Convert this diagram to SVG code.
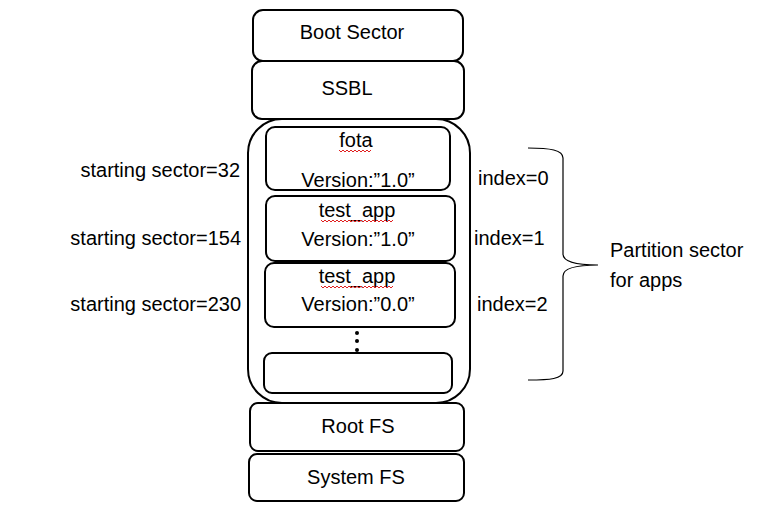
<svg xmlns="http://www.w3.org/2000/svg" width="775" height="507" viewBox="0 0 775 507">
<style>
.box{fill:#fff;stroke:#000;stroke-width:2}
.t{font-family:"Liberation Sans",Arial,sans-serif;font-size:20px;fill:#000}
.c{text-anchor:middle}
.e{text-anchor:end}
.sq{fill:none;stroke:#e02020;stroke-width:1}
</style>
<rect width="775" height="507" fill="#fff"/>
<g id="boot"><rect class="box" x="253" y="10" width="210" height="51" rx="10"/><text class="t c" x="352" y="39">Boot Sector</text></g>
<g id="ssbl"><rect class="box" x="252" y="61" width="212" height="58" rx="10"/><text class="t c" x="347" y="95">SSBL</text></g>
<g id="apps"><rect class="box" x="248" y="119" width="222" height="284" rx="34"/></g>
<g id="fota"><rect class="box" x="266" y="127" width="184" height="63" rx="9"/><text class="t c" x="356" y="147">fota</text><path class="sq" d="M339,150 l2,2 2,-2 2,2 2,-2 2,2 2,-2 2,2 2,-2 2,2 2,-2 2,2 2,-2 2,2 2,-2 2,2 2,-2"/><text class="t c" x="358" y="187">Version:”1.0”</text></g>
<g id="app1"><rect class="box" x="266" y="196" width="189" height="65" rx="9"/><text class="t c" x="357" y="217">test_app</text><path class="sq" d="M321,220 l2,2 2,-2 2,2 2,-2 2,2 2,-2 2,2 2,-2 2,2 2,-2 2,2 2,-2 2,2 2,-2 2,2 2,-2 2,2 2,-2 2,2 2,-2 2,2 2,-2 2,2 2,-2 2,2 2,-2 2,2 2,-2 2,2 2,-2 2,2 2,-2 2,2 2,-2 2,2 2,-2"/><text class="t c" x="358" y="246">Version:”1.0”</text></g>
<g id="app2"><rect class="box" x="265" y="263" width="190" height="64" rx="9"/><text class="t c" x="357" y="283">test_app</text><path class="sq" d="M321,286 l2,2 2,-2 2,2 2,-2 2,2 2,-2 2,2 2,-2 2,2 2,-2 2,2 2,-2 2,2 2,-2 2,2 2,-2 2,2 2,-2 2,2 2,-2 2,2 2,-2 2,2 2,-2 2,2 2,-2 2,2 2,-2 2,2 2,-2 2,2 2,-2 2,2 2,-2 2,2 2,-2"/><text class="t c" x="358" y="311">Version:”0.0”</text></g>
<g id="dots"><circle cx="357" cy="333" r="2"/><circle cx="357" cy="341" r="2"/><circle cx="357" cy="350" r="2"/></g>
<g id="empty"><rect class="box" x="264" y="353" width="188" height="40" rx="8"/></g>
<g id="rootfs"><rect class="box" x="250" y="403" width="214" height="48" rx="8"/><text class="t c" x="358" y="433">Root FS</text></g>
<g id="sysfs"><rect class="box" x="249" y="454" width="215" height="47" rx="8"/><text class="t c" x="356" y="484">System FS</text></g>
<g id="labels">
<text class="t e" x="240" y="177">starting sector=32</text>
<text class="t e" x="241" y="245">starting sector=154</text>
<text class="t e" x="241" y="311">starting sector=230</text>
<text class="t" x="478" y="185">index=0</text>
<text class="t" x="474" y="245">index=1</text>
<text class="t" x="477" y="311">index=2</text>
<text class="t" x="610" y="257">Partition sector</text>
<text class="t" x="610" y="287">for apps</text>
</g>
<g id="connectors">
<path d="M528,148 C550,148 563,150 563,158 L563,254 C563,262 575,265 598,265 C575,265 563,268 563,276 L563,371 C563,379 550,380 528,380" fill="none" stroke="#000" stroke-width="1.2"/>
</g>
</svg>
